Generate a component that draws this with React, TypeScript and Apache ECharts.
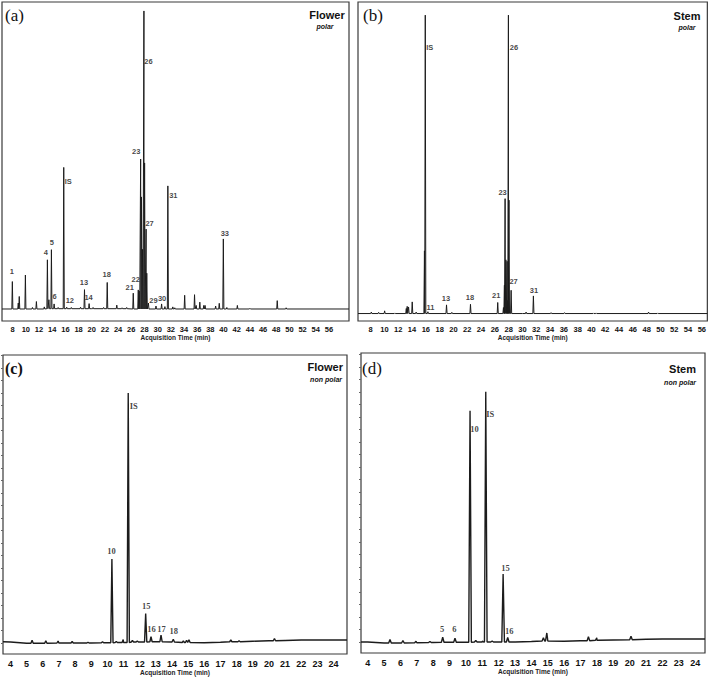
import React, { useEffect, useRef } from "react";
import * as echarts from "echarts";

// ---------- tick labels ----------
const X_TICKS_POLAR = [8, 10, 12, 14, 16, 18, 20, 22, 24, 26, 28, 30, 32, 34, 36, 38, 40, 42, 44, 46, 48, 50, 52, 54, 56];
const X_TICKS_NONPOLAR = [4, 5, 6, 7, 8, 9, 10, 11, 12, 13, 14, 15, 16, 17, 18, 19, 20, 21, 22, 23, 24];
const Y_TICKS_NONPOLAR = [0, 5, 10, 15, 20, 25, 30, 35, 40, 45, 50, 55, 60, 65, 70, 75, 80, 85, 90, 95, 100, 105, 110, 115];

// ---------- (a) Flower, polar : [time (min), height (% of largest)] ----------
const baselineFlowerPolar: number[][] = [[6.38, 0], [20, 0.1], [32, 0], [59.04, 0]];
const peaksFlowerPolar: number[][] = [
  [7.95, 9.2], [8.85, 2.0], [9.0, 4.2], [9.93, 11.4], [11.0, 0.5], [11.6, 2.5], [12.8, 0.7],
  [13.27, 16.4], [13.5, 3.0], [13.88, 19.8], [14.29, 1.6], [14.9, 0.4], [15.75, 47.4], [16.2, 0.5],
  [16.9, 0.4], [18.3, 0.5], [18.9, 6.4], [19.6, 1.7], [20.2, 0.4], [21.8, 0.4], [22.35, 8.8],
  [23.8, 1.2], [24.6, 0.3], [25.3, 0.4], [26.3, 5.3], [27.06, 6.4], [27.2, 6.0], [27.42, 50.3],
  [27.55, 37.6], [27.7, 20.0], [27.92, 100], [28.02, 49.0], [28.25, 26.8], [28.35, 12.0], [28.6, 2.0],
  [29.75, 1.0], [30.6, 1.7], [31.1, 0.8], [31.55, 41.3], [32.3, 0.7], [32.6, 0.4], [34.1, 4.6],
  [35.6, 4.8], [35.85, 1.2], [36.4, 2.3], [37.0, 1.2], [37.2, 1.2], [38.8, 1.0], [39.35, 1.9],
  [39.97, 23.5], [40.5, 0.5], [42.1, 1.2], [44.0, 0.2], [48.15, 2.8], [49.5, 0.4],
];
const labelsFlowerPolar: [string, number][] = [
  ["1", 7.95], ["4", 13.27], ["5", 13.88], ["6", 14.29], ["IS", 15.75], ["12", 16.9], ["13", 18.9],
  ["14", 19.6], ["18", 22.35], ["21", 26.3], ["22", 27.06], ["23", 27.42], ["26", 27.92], ["27", 28.25],
  ["29", 29.75], ["30", 30.6], ["31", 31.55], ["33", 39.97],
];

// ---------- (b) Stem, polar ----------
const baselineStemPolar: number[][] = [[6.17, 0], [30, 0], [56.8, 0]];
const peaksStemPolar: number[][] = [
  [8.1, 0.5], [9.16, 0.4], [10.03, 0.9], [11.5, 0.2], [13.17, 1.7], [13.3, 2.4], [13.5, 2.2],
  [14.03, 3.9], [14.6, 0.5], [15.8, 21], [15.92, 100], [16.3, 0.6], [19.0, 2.9], [19.77, 0.4],
  [22.47, 3.1], [26.42, 3.7], [27.25, 2.0], [27.39, 9.5], [27.49, 38.5], [27.6, 18], [27.78, 17.5],
  [27.88, 4.4], [27.97, 100], [28.05, 38], [28.36, 7.8], [30.53, 0.5], [31.59, 5.9], [34.15, 0.3],
  [36.1, 0.3], [40.3, 0.2], [40.7, 0.2], [48.28, 0.5], [49.6, 0.2],
];
const labelsStemPolar: [string, number][] = [
  ["IS", 15.92], ["11", 16.3], ["13", 19.0], ["18", 22.47], ["21", 26.42], ["23", 27.49],
  ["26", 27.97], ["27", 28.36], ["31", 31.59],
];

// ---------- (c) Flower, non polar : height (% of IS) ----------
const baselineFlowerNonPolar: number[][] = [
  [3.54, 0.5], [4, 0.4], [5, -0.1], [6, -0.1], [7, 0], [8, 0], [9, 0], [10, 0.1], [11, 0.2], [12, 0.4],
  [13, 0.5], [14, 0.4], [15, 0.2], [16, 0.1], [17, 0.3], [18, 0.5], [19, 0.7], [20, 0.9], [21, 1.0],
  [22, 1.2], [23, 1.2], [24, 1.2], [24.83, 1.2],
];
const peaksFlowerNonPolar: number[][] = [
  [5.34, 1.2], [6.19, 1.0], [6.95, 0.8], [7.82, 0.6], [8.8, 0.3], [9.7, 0.4], [10.28, 33.5],
  [10.55, 0.4], [10.98, 1.2], [11.29, 99.8], [11.55, 0.6], [11.85, 0.4], [12.37, 11.4], [12.7, 2.0],
  [13.32, 2.7], [14.08, 1.1], [14.7, 0.6], [14.9, 0.9], [15.05, 1.1], [17.64, 0.7], [18.15, 0.4],
  [20.34, 0.9],
];
const labelsFlowerNonPolar: [string, number][] = [
  ["10", 10.28], ["IS", 11.29], ["15", 12.37], ["16", 12.7], ["17", 13.32], ["18", 14.08],
];

// ---------- (d) Stem, non polar ----------
const baselineStemNonPolar: number[][] = [
  [3.59, 0.1], [4, 0.1], [5, -0.3], [6, -0.3], [7, -0.2], [8, -0.1], [9, 0], [10, 0], [11, 0.1],
  [12, 0.1], [13, 0.1], [14, 0.3], [15, 0.5], [16, 0.4], [17, 0.6], [18, 0.8], [19, 0.9], [20, 1.0],
  [21, 1.2], [22, 1.3], [23, 1.3], [24, 1.3], [24.6, 1.3],
];
const peaksStemNonPolar: number[][] = [
  [5.36, 1.4], [6.15, 1.0], [6.95, 0.6], [7.8, 0.4], [8.58, 2.0], [9.33, 1.6], [10.25, 92.4],
  [10.6, 0.6], [11.0, 0.4], [11.21, 99.9], [11.6, 0.4], [12.27, 27.1], [12.55, 1.8], [14.73, 1.3],
  [14.94, 3.2], [17.48, 1.6], [17.99, 1.0], [20.08, 1.4],
];
const labelsStemNonPolar: [string, number][] = [
  ["5", 8.58], ["6", 9.33], ["10", 10.25], ["IS", 11.21], ["15", 12.27], ["16", 12.55],
];

// ---------- styling (label offsets in px, layout) ----------
const OFF_A: Record<string, number[]> = {
  "1": [0, -10], "4": [-1, -7], "5": [1, -7], "6": [1, -7], "IS": [5, 15], "12": [-1, -6], "13": [0, -7],
  "14": [0, -6], "18": [0, -7], "21": [-3, -5], "22": [-2, -10], "23": [-4, -7], "26": [5, 51],
  "27": [4, -5], "29": [-2, -5], "30": [1, -5], "31": [6, 10], "33": [2, -5],
};
const OFF_B: Record<string, number[]> = {
  "IS": [5, 33], "11": [3, -4], "13": [0, -6], "18": [0, -6], "21": [-1, -6], "23": [-2, -6],
  "26": [6, 33], "27": [3, -8], "31": [1, -5],
};
const OFF_C: Record<string, number[]> = {
  "10": [0, -8], "IS": [6, 13], "15": [1, -7], "16": [1, -7], "17": [1, -6], "18": [1, -8],
};
const OFF_D: Record<string, number[]> = {
  "5": [0, -8], "6": [0, -9], "10": [5, 19], "IS": [5, 23], "15": [3, -6], "16": [2, -6],
};

const SANS = "'Liberation Sans', Arial, sans-serif";
const SERIF = "'Liberation Serif', 'Times New Roman', serif";
const INK = "#1c1c1c";

function nearestLevel(base: number[][], t: number) {
  let best = base[0];
  for (const k of base) if (Math.abs(k[0] - t) < Math.abs(best[0] - t)) best = k;
  return best[1];
}

function trace(base: number[][], peaks: number[][], w: number) {
  const pts: number[][] = base.map((k) => [k[0], k[1]]);
  for (const [t, h] of peaks) {
    const f = nearestLevel(base, t);
    pts.push([t - w, f], [t, f + h], [t + w, f]);
  }
  pts.sort((p, q) => p[0] - q[0]);
  return pts;
}

function labelData(base: number[][], peaks: number[][], labels: [string, number][], off: Record<string, number[]>) {
  return labels.map(([text, t]) => {
    const pk = peaks.find((p) => p[0] === t)!;
    const y = nearestLevel(base, t) + pk[1];
    return { name: text, value: [t, y], label: { offset: off[text] || [0, -6] } };
  });
}

const panels = [
  {
    box: [2, 2, 347, 319], x: [6.38, 59.04], y: [-4.03, 103], ticks: X_TICKS_POLAR,
    base: baselineFlowerPolar, peaks: peaksFlowerPolar, labels: labelsFlowerPolar, off: OFF_A,
    w: 0.08, lw: 1, tickSize: 7.5, margin: 4, nameGap: 13, yTicks: false,
    labelFont: SANS, labelSize: 7.5,
  },
  {
    box: [358, 2, 350, 319], x: [6.17, 56.8], y: [-2.5, 104.4], ticks: X_TICKS_POLAR,
    base: baselineStemPolar, peaks: peaksStemPolar, labels: labelsStemPolar, off: OFF_B,
    w: 0.08, lw: 1, tickSize: 7.5, margin: 4, nameGap: 13, yTicks: false,
    labelFont: SANS, labelSize: 7.5,
  },
  {
    box: [3, 355, 344, 299], x: [3.54, 24.83], y: [-4.4, 115.2], ticks: X_TICKS_NONPOLAR,
    base: baselineFlowerNonPolar, peaks: peaksFlowerNonPolar, labels: labelsFlowerNonPolar, off: OFF_C,
    w: 0.07, lw: 1.4, tickSize: 9, margin: 5, nameGap: 15, yTicks: true,
    labelFont: SERIF, labelSize: 8.5,
  },
  {
    box: [361, 353, 344, 300], x: [3.59, 24.6], y: [-4.3, 115.5], ticks: X_TICKS_NONPOLAR,
    base: baselineStemNonPolar, peaks: peaksStemNonPolar, labels: labelsStemNonPolar, off: OFF_D,
    w: 0.08, lw: 1.4, tickSize: 9, margin: 5, nameGap: 15, yTicks: true,
    labelFont: SERIF, labelSize: 8.5,
  },
];

function txt(text: string, x: number, y: number, font: string, align = "left") {
  return {
    type: "text", x, y, silent: true,
    style: { text, font, fill: "#111", align, verticalAlign: "middle" },
  };
}

export default function App() {
  const ref = useRef<HTMLDivElement>(null);
  useEffect(() => {
    document.body.style.margin = "0";
    const chart = echarts.init(ref.current!, null, { renderer: "svg" });
    const series: any[] = [];
    panels.forEach((p, i) => {
      series.push({
        type: "line", xAxisIndex: i, yAxisIndex: i, data: trace(p.base, p.peaks, p.w),
        showSymbol: false, symbol: "none", lineStyle: { color: INK, width: p.lw }, silent: true,
        itemStyle: { color: INK },
      });
      series.push({
        type: "scatter", xAxisIndex: i, yAxisIndex: i, symbolSize: 1,
        itemStyle: { color: "rgba(0,0,0,0)" }, silent: true,
        data: labelData(p.base, p.peaks, p.labels, p.off),
        label: {
          show: true, formatter: "{b}", position: [0, 0], align: "center", verticalAlign: "middle",
          color: "#111", textBorderWidth: 0,
          fontFamily: p.labelFont, fontWeight: "bold", fontSize: p.labelSize,
        },
      });
    });
    chart.setOption({
      animation: false,
      color: ["#111"],
      grid: panels.map((p) => ({
        left: p.box[0], top: p.box[1], width: p.box[2], height: p.box[3], show: true,
        borderColor: "#3a3a3a", borderWidth: 1.2, backgroundColor: "transparent",
      })),
      xAxis: panels.map((p, i) => ({
        type: "value", gridIndex: i, min: p.x[0], max: p.x[1],
        name: "Acquisition Time (min)", nameLocation: "middle", nameGap: p.nameGap,
        nameTextStyle: { fontFamily: SANS, fontSize: 6.5, fontWeight: "bold", color: "#222" },
        axisLine: { show: false }, axisTick: { show: false }, splitLine: { show: false },
        axisLabel: {
          customValues: p.ticks, margin: p.margin, fontFamily: SANS, fontWeight: "bold",
          fontSize: p.tickSize, color: "#111", showMinLabel: true, showMaxLabel: true,
        },
      })),
      yAxis: panels.map((p, i) => ({
        type: "value", gridIndex: i, min: p.y[0], max: p.y[1],
        axisLine: { show: false }, axisLabel: { show: false }, splitLine: { show: false },
        axisTick: p.yTicks
          ? { show: true, customValues: Y_TICKS_NONPOLAR, length: 2, lineStyle: { color: "#666", width: 1 } }
          : { show: false },
      })),
      series,
      graphic: [
        txt("(a)", 5, 15, `17px ${SERIF}`),
        txt("Flower", 327, 15, `bold 11px ${SANS}`, "center"),
        txt("polar", 325, 26, `italic bold 7px ${SANS}`, "center"),
        txt("(b)", 363, 15, `17px ${SERIF}`),
        txt("Stem", 687, 16, `bold 11px ${SANS}`, "center"),
        txt("polar", 687, 27, `italic bold 7px ${SANS}`, "center"),
        txt("(c)", 5, 368, `bold 16px ${SERIF}`),
        txt("Flower", 343, 367, `bold 11px ${SANS}`, "right"),
        txt("non polar", 342, 379, `italic bold 7px ${SANS}`, "right"),
        txt("(d)", 362, 368, `17px ${SERIF}`),
        txt("Stem", 696, 369, `bold 11px ${SANS}`, "right"),
        txt("non polar", 696, 382, `italic bold 7px ${SANS}`, "right"),
      ],
    });
    return () => chart.dispose();
  }, []);
  return <div ref={ref} style={{ width: 709, height: 679 }} />;
}
